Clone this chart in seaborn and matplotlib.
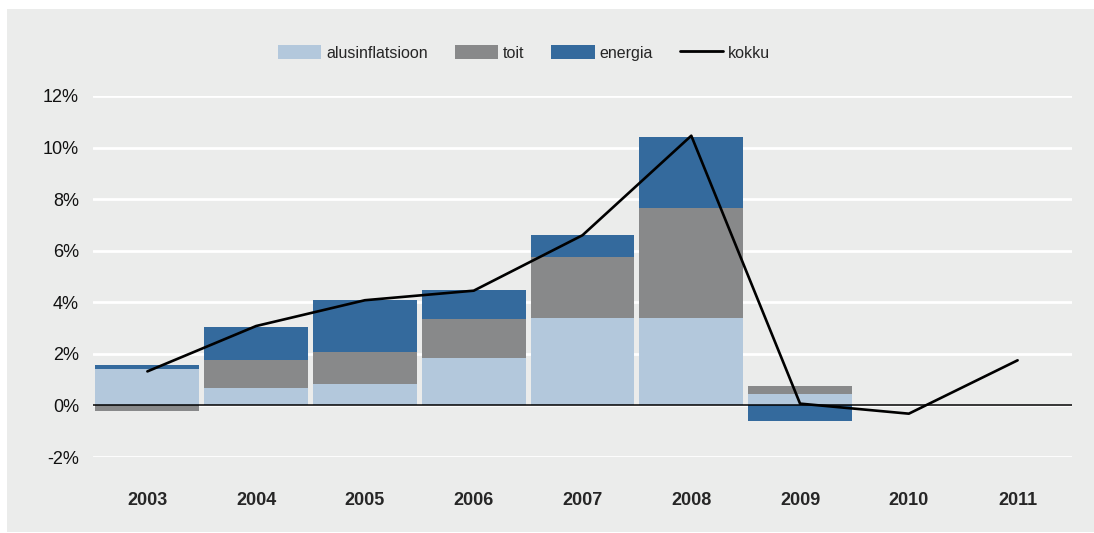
import numpy as np
import pandas as pd
import matplotlib.pyplot as plt
import seaborn as sns
from matplotlib.patches import Patch
from matplotlib.lines import Line2D

# Values (percent)
years = ["2003", "2004", "2005", "2006", "2007", "2008", "2009", "2010", "2011"]
alusinflatsioon = [1.40, 0.66, 0.85, 1.83, 3.38, 3.38, 0.43, 0.0, 0.0]
toit = [-0.23, 1.09, 1.21, 1.51, 2.38, 4.27, 0.31, 0.0, 0.0]
energia = [0.15, 1.28, 2.02, 1.13, 0.84, 2.76, -0.61, 0.0, 0.0]
kokku = [1.32, 3.08, 4.08, 4.45, 6.60, 10.46, 0.07, -0.32, 1.75]

series_names = ["alusinflatsioon", "toit", "energia"]
colors = {"alusinflatsioon": "#b3c8dc", "toit": "#88898a", "energia": "#346a9d"}
bg = "#ebeceb"

sns.set_style("white")
plt.rcParams["font.family"] = ["Liberation Sans", "DejaVu Sans"]

# stacked bars: positives stack up, negatives stack down
vals = np.array([alusinflatsioon, toit, energia])
pos_cum = np.cumsum(np.where(vals > 0, vals, 0), axis=0)
neg_cum = np.cumsum(np.where(vals < 0, vals, 0), axis=0)
tops = np.where(vals >= 0, pos_cum, neg_cum)

fig = plt.figure(figsize=(10.94, 5.33), dpi=100)
fig.patch.set_facecolor("white")
fig.patches.append(plt.Rectangle((7 / 1094, 1 / 533), 1 - 7 / 1094, 1 - 10 / 533,
                                 transform=fig.transFigure, facecolor=bg,
                                 edgecolor="none", zorder=-10))
ax = fig.add_axes([93 / 1094, 1 - 457 / 533, (1072 - 93) / 1094, (457 - 96) / 533])
ax.set_facecolor(bg)

# draw from the top of the stack down so lower layers cover the upper ones
for i in reversed(range(len(series_names))):
    df = pd.DataFrame({"year": years, "value": tops[i]})
    sns.barplot(data=df, x="year", y="value", color=colors[series_names[i]],
                saturation=1, width=0.956, edgecolor="none", ax=ax, zorder=2)

sns.lineplot(x=np.arange(len(years)), y=kokku, color="black", linewidth=1.9,
             ax=ax, zorder=4)

ax.axhline(0, color="black", linewidth=1.1, zorder=3)
ax.set_ylim(-2, 12)
ax.set_xlim(-0.5, len(years) - 0.5)
ax.set_yticks(range(-2, 13, 2))
ax.set_yticklabels([f"{t}%" for t in range(-2, 13, 2)])
ax.yaxis.grid(True, color="white", linewidth=2, zorder=0)
ax.set_axisbelow(True)
ax.set_xlabel("")
ax.set_ylabel("")
for s in ax.spines.values():
    s.set_visible(False)
ax.tick_params(axis="y", length=0, pad=10, labelsize=13, labelcolor="#111111")
ax.tick_params(axis="x", length=0, pad=25, labelsize=13)
for lbl in ax.get_xticklabels():
    lbl.set_fontweight("bold")

handles = [Patch(facecolor=colors[n], edgecolor="none") for n in series_names]
handles.append(Line2D([0], [0], color="black", linewidth=2))
fig.legend(handles, series_names + ["kokku"], loc="center",
           bbox_to_anchor=(524 / 1094, 1 - 53 / 533), ncol=4, frameon=False,
           fontsize=11.5, handlelength=2.7, handleheight=1.0, handletextpad=0.3,
           columnspacing=1.7)

fig.savefig("out.png", dpi=100, facecolor=fig.get_facecolor())
